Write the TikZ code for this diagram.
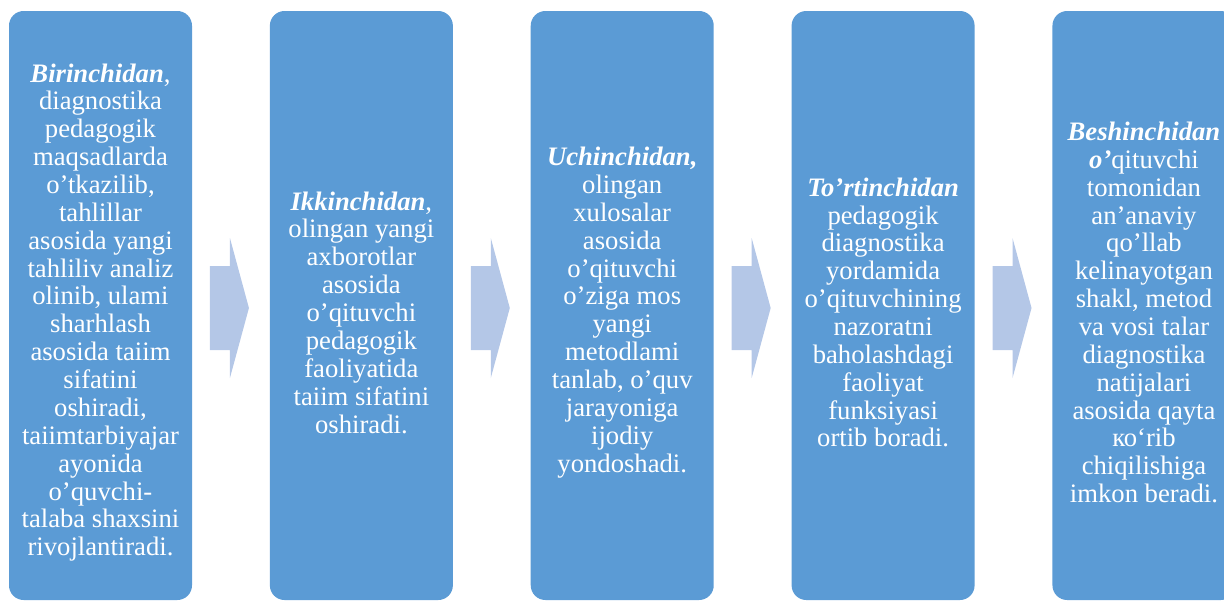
\documentclass[tikz,border=0pt]{standalone}
\usepackage{fontspec}
\setmainfont{Liberation Serif}
\usetikzlibrary{positioning,calc}

\definecolor{boxblue}{HTML}{5B9BD5}
\definecolor{arrowblue}{HTML}{B4C7E7}

\tikzset{
  stepbox/.style={fill=boxblue, rounded corners=11pt, minimum width=137.25pt,
    minimum height=441.75pt, inner sep=0pt},
  steptext/.style={text=white, align=center, inner sep=0pt, yshift=-5.25pt,
    font=\fontsize{20}{20.9}\selectfont},
  flowarrow/.style={fill=arrowblue}
}
\newcommand{\lead}[1]{\textbf{\textit{#1}}}

\begin{document}
\begin{tikzpicture}[x=0.75pt,y=-0.75pt]
\useasboundingbox (0,0) rectangle (1224,601);
\clip (0,0) rectangle (1224,601);

	%steps
	\node[stepbox, label={[steptext]center:{\lead{Birinchidan}, \\ diagnostika \\ pedagogik \\ maqsadlarda \\ o’tkazilib, \\ tahlillar \\ asosida yangi \\ tahliliv analiz \\ olinib, ulami \\ sharhlash \\ asosida taiim \\ sifatini \\ oshiradi, \\ taiimtarbiyajar \\ ayonida \\ o’quvchi- \\ talaba shaxsini \\ rivojlantiradi.}}] (b1) at (100.5,305.5) {};
	\node[stepbox, right=58pt of b1, label={[steptext]center:{\lead{Ikkinchidan}, \\ olingan yangi \\ axborotlar \\ asosida \\ o’qituvchi \\ pedagogik \\ faoliyatida \\ taiim sifatini \\ oshiradi.}}] (b2) {};
	\node[stepbox, right=58pt of b2, label={[steptext]center:{\lead{Uchinchidan,} \\ olingan \\ xulosalar \\ asosida \\ o’qituvchi \\ o’ziga mos \\ yangi \\ metodlami \\ tanlab, o’quv \\ jarayoniga \\ ijodiy \\ yondoshadi.}}] (b3) {};
	\node[stepbox, right=58pt of b3, label={[steptext]center:{\lead{To’rtinchidan} \\ pedagogik \\ diagnostika \\ yordamida \\ o’qituvchining \\ nazoratni \\ baholashdagi \\ faoliyat \\ funksiyasi \\ ortib boradi.}}] (b4) {};
	\node[stepbox, right=58pt of b4, label={[steptext]center:{\lead{Beshinchidan} \\ \lead{o’}qituvchi \\ tomonidan \\ an’anaviy \\ qo’llab \\ kelinayotgan \\ shakl, metod \\ va vosi talar \\ diagnostika \\ natijalari \\ asosida qayta \\ ко‘rib \\ chiqilishiga \\ imkon beradi.}}] (b5) {};

	%arrows
	\coordinate (g1) at ($(b1.east)!0.5!(b2.west)+(0,2.5)$);
	\coordinate (g2) at ($(b2.east)!0.5!(b3.west)+(0,2.5)$);
	\coordinate (g3) at ($(b3.east)!0.5!(b4.west)+(0,2.5)$);
	\coordinate (g4) at ($(b4.east)!0.5!(b5.west)+(0,2.5)$);
	\fill[flowarrow, shift={(g1)}] (-21,-42) -- (-1,-42) -- (-1,-70) -- (18,0) -- (-1,70) -- (-1,42) -- (-21,42) -- cycle;
	\fill[flowarrow, shift={(g2)}] (-21,-42) -- (-1,-42) -- (-1,-70) -- (18,0) -- (-1,70) -- (-1,42) -- (-21,42) -- cycle;
	\fill[flowarrow, shift={(g3)}] (-21,-42) -- (-1,-42) -- (-1,-70) -- (18,0) -- (-1,70) -- (-1,42) -- (-21,42) -- cycle;
	\fill[flowarrow, shift={(g4)}] (-21,-42) -- (-1,-42) -- (-1,-70) -- (18,0) -- (-1,70) -- (-1,42) -- (-21,42) -- cycle;
\end{tikzpicture}
\end{document}
